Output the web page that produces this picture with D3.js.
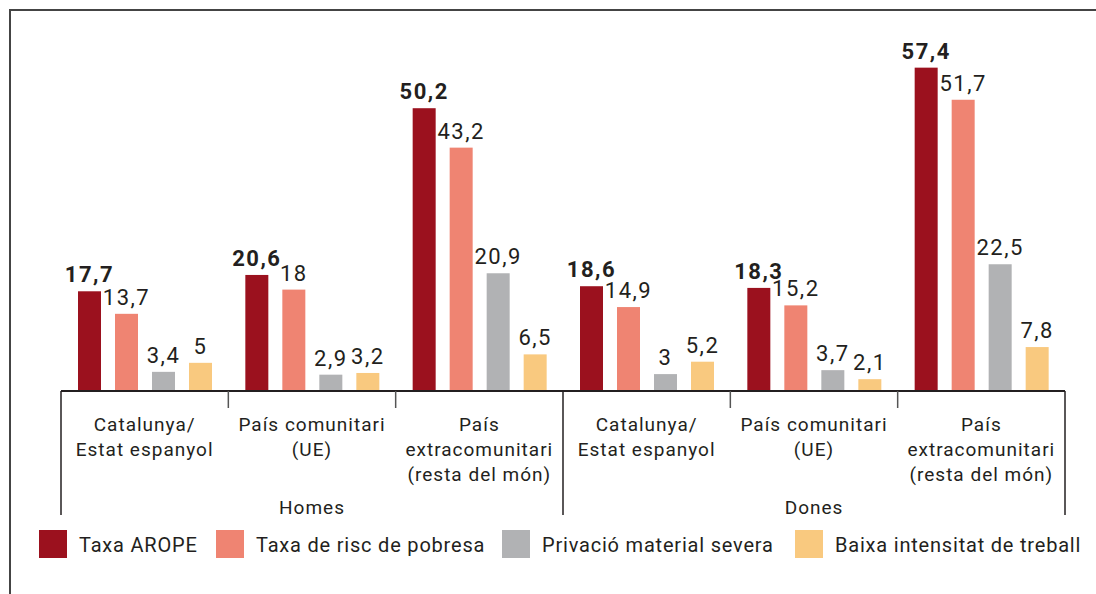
<meta charset="utf-8">
<style>
body { margin: 0; background: #fff; }
text { font-family: Roboto, "DejaVu Sans", sans-serif; fill: #231f20; }
</style>
<body>
<script src="https://cdn.jsdelivr.net/npm/d3@7"></script>
<script>
// categories
var groups = ["Homes", "Dones"];
var origins = [["Catalunya/", "Estat espanyol"], ["País comunitari", "(UE)"], ["País", "extracomunitari", "(resta del món)"]];
var series = ["Taxa AROPE", "Taxa de risc de pobresa", "Privació material severa", "Baixa intensitat de treball"];
var colors = ["#9b111e", "#ef8472", "#b1b2b4", "#f9c97f"];

// values, Homes x3 then Dones x3
var arope = [17.7, 20.6, 50.2, 18.6, 18.3, 57.4];
var risc = [13.7, 18, 43.2, 14.9, 15.2, 51.7];
var privacio = [3.4, 2.9, 20.9, 3, 3.7, 22.5];
var baixa = [5, 3.2, 6.5, 5.2, 2.1, 7.8];
var values = [arope, risc, privacio, baixa];

var W = 1096, H = 594;
var svg = d3.select("body").append("svg")
    .attr("width", W)
    .attr("height", H);

// frame
svg.append("path")
    .attr("d", "M10,594V10H1096")
    .attr("fill", "none")
    .attr("stroke", "#444")
    .attr("stroke-width", 2);

var cats = [];
groups.forEach(function(g, gi) {
  origins.forEach(function(o, oi) { cats.push(gi * 3 + oi); });
});

var x0 = d3.scaleBand().domain(cats).range([61, 1065]);
var x1 = d3.scaleBand().domain(d3.range(series.length))
    .range([17, 151]).paddingInner(14 / 37);
var y = d3.scaleLinear().domain([0, 60]).range([391, 53]);

var fmt = function(v) { return String(v).replace(".", ","); };

var g = svg.selectAll(".cat")
    .data(cats)
  .enter().append("g")
    .attr("class", "cat")
    .attr("transform", function(c) { return "translate(" + x0(c) + ",0)"; });

series.forEach(function(s, si) {
  g.append("rect")
      .attr("x", x1(si))
      .attr("width", x1.bandwidth())
      .attr("y", function(c) { return y(values[si][c]); })
      .attr("height", function(c) { return y(0) - y(values[si][c]); })
      .attr("fill", colors[si]);

  g.append("text")
      .attr("x", x1(si) + x1.bandwidth() / 2)
      .attr("y", function(c) { return y(values[si][c]) - 9; })
      .attr("text-anchor", "middle")
      .style("font-size", "22px")
      .style("letter-spacing", "1.5px")
      .style("font-weight", si == 0 ? "bold" : "normal")
      .text(function(c) { return fmt(values[si][c]); });
});

// axis line
svg.append("line")
    .attr("x1", 61).attr("x2", 1065)
    .attr("y1", 391).attr("y2", 391)
    .attr("stroke", "#231f20")
    .attr("stroke-width", 2);

// ticks between categories
var edges = cats.map(function(c) { return x0(c); }).concat([x0.range()[1]]);
edges.forEach(function(ex, i) {
  var long = i % 3 == 0;
  svg.append("line")
      .attr("x1", ex).attr("x2", ex)
      .attr("y1", 391).attr("y2", long ? 515 : 408)
      .attr("stroke", long ? "#231f20" : "#555")
      .attr("stroke-width", 1.5);
});

// category labels
g.each(function(c) {
  var lines = origins[c % 3];
  var t = d3.select(this).append("text")
      .attr("text-anchor", "middle")
      .style("font-size", "19px")
      .style("letter-spacing", "1px");
  lines.forEach(function(l, li) {
    t.append("tspan")
        .attr("x", x0.bandwidth() / 2)
        .attr("y", 431 + li * 25)
        .text(l);
  });
});

// group labels
groups.forEach(function(gr, gi) {
  var a = x0(gi * 3), b = x0(gi * 3 + 2) + x0.bandwidth();
  svg.append("text")
      .attr("x", (a + b) / 2)
      .attr("y", 514)
      .attr("text-anchor", "middle")
      .style("font-size", "19px")
      .style("letter-spacing", "1px")
      .text(gr);
});

// legend
var legX = [39, 216, 502, 795];
var leg = svg.selectAll(".leg")
    .data(series)
  .enter().append("g")
    .attr("class", "leg")
    .attr("transform", function(d, i) { return "translate(" + legX[i] + ",530)"; });
leg.append("rect")
    .attr("width", 28).attr("height", 28)
    .attr("fill", function(d, i) { return colors[i]; });
leg.append("text")
    .attr("x", 40)
    .attr("y", 22)
    .style("font-size", "20px")
    .style("letter-spacing", "0.8px")
    .text(function(d) { return d; });
</script>
</body>
